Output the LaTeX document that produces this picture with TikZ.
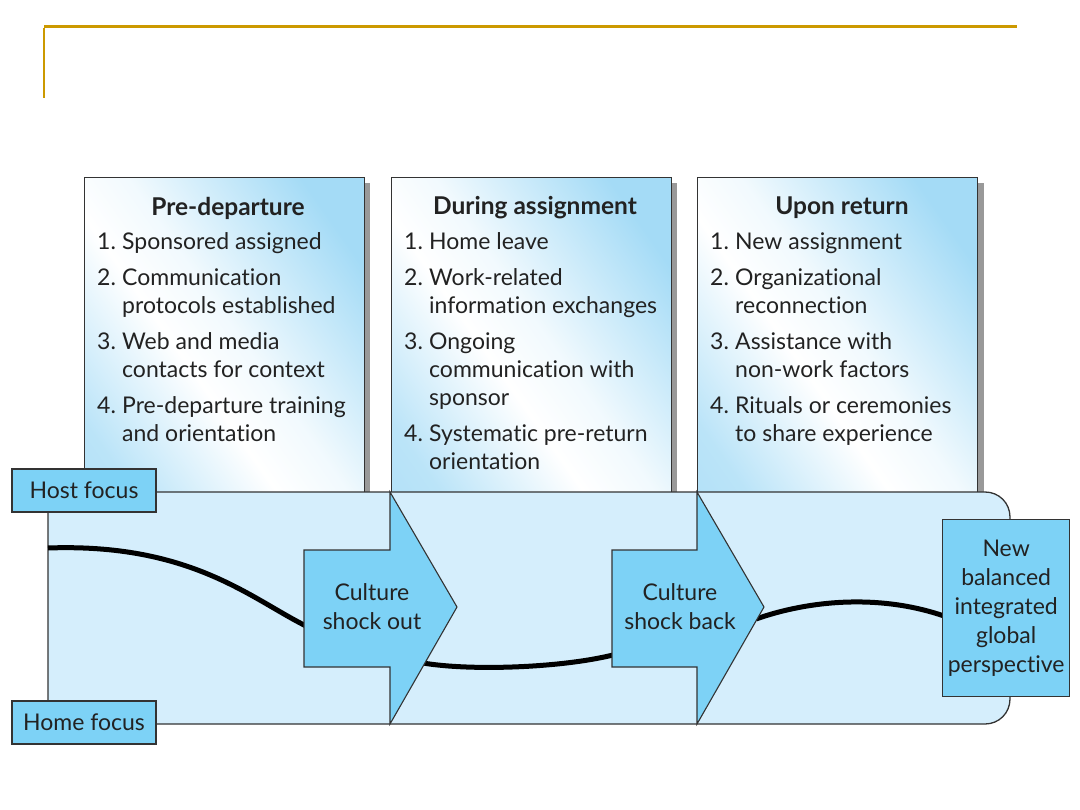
\documentclass[tikz,border=0pt]{standalone}
\usepackage{fontspec}
\setmainfont{Lato}[Ligatures=NoCommon]
\definecolor{gold}{HTML}{CC9900}
\definecolor{bandfill}{HTML}{D5EEFC}
\definecolor{arrowfill}{HTML}{7DD2F6}
\definecolor{boxbot}{HTML}{A4DBF6}
\definecolor{edge}{HTML}{333333}
\definecolor{txt}{HTML}{222222}
\pgfdeclarehorizontalshading{boxshade}{100bp}{color(0bp)=(boxbot); color(22bp)=(boxbot!75); color(42bp)=(white); color(52bp)=(white!85!boxbot); color(76bp)=(boxbot); color(100bp)=(boxbot)}
\newcommand{\listfont}{\fontsize{23}{28}\selectfont}
\newcommand{\gap}{\\[8pt]}
\tikzset{
  topbox/.style={draw=edge, line width=1.3pt, shading=boxshade, shading angle=35, inner sep=0pt, anchor=north west, minimum width=280pt, minimum height=315pt},
  boxshadow/.style={fill=black!40, draw=none},
  titletext/.style={text=txt, font=\fontsize{24.5}{28}\selectfont\bfseries, inner sep=0pt},
  listtext/.style={text=txt, font=\listfont, inner sep=0pt, anchor=north west},
  band/.style={draw=edge, line width=1.3pt, fill=bandfill},
  bigarrow/.style={draw=edge, line width=1.1pt, fill=arrowfill},
  arrowtext/.style={text=txt, font=\fontsize{23}{29}\selectfont, align=center, inner sep=0pt},
  tag/.style={draw=edge, line width=1.3pt, fill=arrowfill, text=txt, font=\fontsize{23}{28}\selectfont, inner sep=0pt, minimum width=144pt, minimum height=43pt},
  focusline/.style={line width=5pt, black},
  goldline/.style={gold, line width=3pt}
}
\begin{document}
\begin{tikzpicture}[x=1pt, y=-1pt]
\useasboundingbox (0,0) rectangle (1080,810);
% gold title rule
\coordinate (g1) at (44,27);
\coordinate (g2) at (1017,27);
\coordinate (g3) at (44,98);
\draw[goldline] (g1) -- (g2);
\draw[gold, line width=2pt] ([yshift=-1pt]g1) -- (g3);

% shadows of the top boxes
\fill[boxshadow] (358,183) rectangle (370,492);
\fill[boxshadow] (665,183) rectangle (677,492);
\fill[boxshadow] (972,183) rectangle (984,492);

% top boxes
\node[topbox] (b1) at (84,177) {};
\node[topbox] (b2) at (391,177) {};
\node[topbox] (b3) at (697,177) {};

\node[titletext] (t1) at (228,208) {Pre-departure};
\node[titletext] (t2) at (535,208) {During assignment};
\node[titletext] (t3) at (842,208) {Upon return};

\node[listtext] (l1) at (97,229.5) {\begin{tabular}{@{}p{25pt}@{}l@{}}
1. & Sponsored assigned\gap
2. & Communication\\
   & protocols established\gap
3. & Web and media\\
   & contacts for context\gap
4. & Pre-departure training\\
   & and orientation
\end{tabular}};
\node[listtext] (l2) at (404,229.5) {\begin{tabular}{@{}p{25pt}@{}l@{}}
1. & Home leave\gap
2. & Work-related\\
   & information exchanges\gap
3. & Ongoing\\
   & communication with\\
   & sponsor\gap
4. & Systematic pre-return\\
   & orientation
\end{tabular}};
\node[listtext] (l3) at (710,229.5) {\begin{tabular}{@{}p{25pt}@{}l@{}}
1. & New assignment\gap
2. & Organizational\\
   & reconnection\gap
3. & Assistance with\\
   & non-work factors\gap
4. & Rituals or ceremonies\\
   & to share experience
\end{tabular}};

% band
\draw[band] (48,492) -- (985,492) .. controls (999,492) and (1010,503) .. (1010,517)
  -- (1010,699) .. controls (1010,713) and (999,724) .. (985,724) -- (48,724) -- cycle;

% focus curve
\coordinate (c0) at (48,548);
\coordinate (c1) at (306,626);
\coordinate (c2) at (423,663);
\coordinate (c3) at (613,655);
\coordinate (c4) at (756,619);
\coordinate (c5) at (944,616);
\draw[focusline] (c0) .. controls (190,543) and (250,598) .. (c1);
\draw[focusline] (c2) .. controls (470,671) and (560,668) .. (c3);
\draw[focusline] (c4) .. controls (810,600) and (880,594) .. (c5);

% arrows
\draw[bigarrow] (304,550) -- (390,550) -- (390,492) -- (457,607) -- (390,724) -- (390,667) -- (304,667) -- cycle;
\draw[bigarrow] (612,550) -- (697,550) -- (697,492) -- (764,607) -- (697,724) -- (697,667) -- (612,667) -- cycle;
\node[arrowtext] (a1) at (372,607) {Culture\\shock out};
\node[arrowtext] (a2) at (680,607) {Culture\\shock back};

% result box
\node[draw=edge, line width=1.3pt, fill=arrowfill, anchor=north west, minimum width=127pt, minimum height=177pt, inner sep=0pt] (res) at (942,519) {};
\node[arrowtext] (rt) at (res.center) {New\\balanced\\integrated\\global\\perspective};

% focus tags
\node[tag] (host) at (84,490.5) {Host focus};
\node[tag] (home) at (84,722.5) {Home focus};
\end{tikzpicture}
\end{document}
